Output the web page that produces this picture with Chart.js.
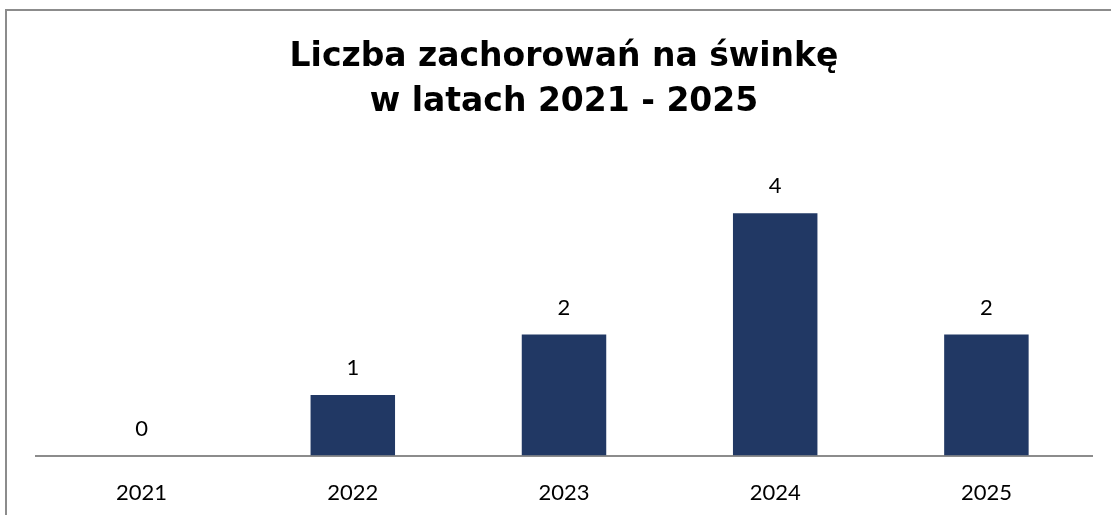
<!DOCTYPE html>
<html>
<head>
<meta charset="utf-8">
<script src="https://cdn.jsdelivr.net/npm/chart.js@4"></script>
<style>
  html, body { margin: 0; padding: 0; background: #fff; overflow: hidden; }
  #wrap { position: relative; width: 1111px; height: 515px; overflow: hidden; }
  #frame { position: absolute; left: 5px; top: 9px; width: 1200px; height: 600px; border: 2px solid #8c8c8c; box-sizing: border-box; }
  canvas { position: absolute; left: 0; top: 0; }
</style>
</head>
<body>
<div id="wrap">
  <div id="frame"></div>
  <canvas id="chart" width="1111" height="522"></canvas>
</div>
<script>
const years = ['2021', '2022', '2023', '2024', '2025'];
const cases = [0, 1, 2, 4, 2];
const titleLines = ['Liczba zachorowań na świnkę', 'w latach 2021 - 2025'];

// value labels above the bars
const valueLabels = {
  id: 'valueLabels',
  afterDatasetsDraw(chart) {
    const ctx = chart.ctx;
    const meta = chart.getDatasetMeta(0);
    ctx.save();
    ctx.font = '22px Lato';
    ctx.fillStyle = '#000';
    ctx.textAlign = 'center';
    ctx.textBaseline = 'middle';
    meta.data.forEach((bar, i) => {
      ctx.fillText(String(cases[i]), bar.x, bar.y - 27);
    });
    ctx.restore();
  }
};

const ctx = document.getElementById('chart').getContext('2d');
new Chart(ctx, {
  type: 'bar',
  data: {
    labels: years,
    datasets: [{
      data: cases,
      backgroundColor: '#213864',
      borderWidth: 0,
      barPercentage: 0.4,
      categoryPercentage: 1
    }]
  },
  options: {
    responsive: false,
    animation: false,
    layout: { padding: { left: 36, right: 19, top: 35, bottom: 0 } },
    plugins: {
      legend: { display: false },
      tooltip: { enabled: false },
      title: {
        display: true,
        text: titleLines,
        color: '#000',
        font: { family: 'DejaVu Sans', size: 33, weight: 'bold', lineHeight: 1.36 },
        padding: { top: 0, bottom: 28 }
      }
    },
    scales: {
      x: {
        grid: { display: false },
        border: { display: true, color: '#8c8c8c', width: 2 },
        ticks: { color: '#000', font: { family: 'Lato', size: 22 }, padding: 16 }
      },
      y: {
        display: false,
        min: 0,
        max: 5
      }
    }
  },
  plugins: [valueLabels]
});
</script>
</body>
</html>
